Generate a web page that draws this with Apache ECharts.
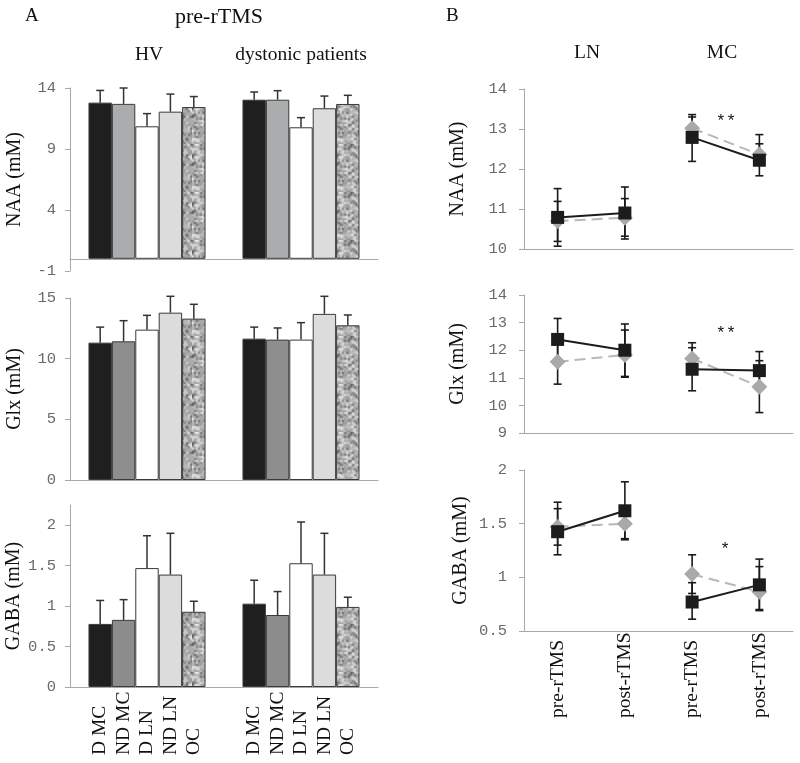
<!DOCTYPE html>
<html>
<head>
<meta charset="utf-8">
<script src="https://cdn.jsdelivr.net/npm/echarts@6/dist/echarts.min.js"></script>
<style>html,body{margin:0;padding:0;background:#fff}#c{width:800px;height:763px}</style>
</head>
<body>
<div id="c"></div>
<script>
// ---------- DATA ----------
const groupCategories = ['HV', 'dystonic patients'];
const barNames = ['D MC', 'ND MC', 'D LN', 'ND LN', 'OC'];

const naaMeanHV = [12.8, 12.7, 10.86, 12.06, 12.44];
const naaSdHV   = [1.0, 1.3, 1.04, 1.44, 0.86];
const naaMeanDP = [13.04, 13.04, 10.78, 12.34, 12.69];
const naaSdDP   = [0.63, 0.74, 0.79, 1.0, 0.71];

const glxMeanHV = [11.32, 11.43, 12.39, 13.79, 13.3];
const glxSdHV   = [1.28, 1.7, 1.18, 1.35, 1.18];
const glxMeanDP = [11.65, 11.57, 11.57, 13.69, 12.75];
const glxSdDP   = [0.95, 0.96, 1.4, 1.45, 0.85];

const gabaMeanHV = [0.78, 0.83, 1.47, 1.39, 0.93];
const gabaSdHV   = [0.29, 0.25, 0.4, 0.51, 0.13];
const gabaMeanDP = [1.03, 0.89, 1.53, 1.39, 0.99];
const gabaSdDP   = [0.29, 0.29, 0.51, 0.51, 0.12];

const timeCategories = ['pre-rTMS', 'post-rTMS', 'pre-rTMS', 'post-rTMS'];

const naaBlack     = [10.79, 10.9, 12.79, 12.22];
const naaBlackLow  = [10.07, 10.25, 12.19, 11.83];
const naaBlackHigh = [11.51, 11.55, 13.36, 12.86];
const naaGrey      = [10.7, 10.78, 13.02, 12.36];
const naaGreyLow   = [10.19, 10.32, 12.72, 12.09];
const naaGreyHigh  = [11.19, 11.26, 13.3, 12.63];

const glxBlack     = [12.39, 12.0, 11.31, 11.26];
const glxBlackLow  = [11.62, 11.05, 10.53, 10.57];
const glxBlackHigh = [13.15, 12.95, 12.09, 11.95];
const glxGrey      = [11.58, 11.83, 11.7, 10.68];
const glxGreyLow   = [10.77, 11.02, 11.13, 9.74];
const glxGreyHigh  = [12.38, 12.73, 12.27, 11.62];

const gabaBlack     = [1.425, 1.62, 0.77, 0.93];
const gabaBlackLow  = [1.21, 1.35, 0.61, 0.69];
const gabaBlackHigh = [1.7, 1.89, 0.95, 1.17];
const gabaGrey      = [1.47, 1.5, 1.03, 0.865];
const gabaGreyLow   = [1.3, 1.36, 0.85, 0.7];
const gabaGreyHigh  = [1.64, 1.64, 1.21, 1.1];

// ---------- STYLE ----------
const SERIF = "'Liberation Serif','Times New Roman',serif";
const MONO = "'Liberation Mono','Courier New',monospace";
const AXIS_GREY = '#a8a8a8';
const TICK_TEXT = '#6a6a6a';

// speckled texture for OC bars (deterministic, soft)
function makeTexture() {
  const N = 24, SCALE = 2;
  const small = document.createElement('canvas');
  small.width = N; small.height = N;
  const sctx = small.getContext('2d');
  const img = sctx.createImageData(N, N);
  let s = 24680;
  function rnd() { s = (s * 1103515245 + 12345) & 0x7fffffff; return s / 0x7fffffff; }
  for (let i = 0; i < N * N; i++) {
    const r = rnd();
    let g;
    if (r < 0.18) g = 85 + rnd() * 40;       // dark specks
    else if (r < 0.38) g = 210 + rnd() * 30; // light spots
    else g = 150 + rnd() * 45;               // mid grey
    img.data[i * 4] = g; img.data[i * 4 + 1] = g; img.data[i * 4 + 2] = g; img.data[i * 4 + 3] = 255;
  }
  sctx.putImageData(img, 0, 0);
  const cv = document.createElement('canvas');
  cv.width = N * SCALE; cv.height = N * SCALE;
  const ctx = cv.getContext('2d');
  ctx.imageSmoothingEnabled = true;
  ctx.drawImage(small, 0, 0, N * SCALE, N * SCALE);
  return cv;
}
const texture = makeTexture();
const ndMcColors = ['#aaacad', '#8e8e8e', '#8c8c8c'];
function barColor(panel, bi) {
  if (bi === 0) return '#1f1f1f';
  if (bi === 1) return ndMcColors[panel];
  if (bi === 2) return '#ffffff';
  if (bi === 3) return '#dcdcdc';
  return { image: texture, repeat: 'repeat' };
}

// ---------- LAYOUT ----------
const gridsA = [
  { left: 70, top: 88, width: 308, height: 183 },
  { left: 70, top: 298, width: 308, height: 182 },
  { left: 70, top: 505, width: 308, height: 182 }
];
const gridsB = [
  { left: 524, top: 89, width: 269, height: 160 },
  { left: 524, top: 295, width: 269, height: 138 },
  { left: 524, top: 470, width: 269, height: 161 }
];
const grids = gridsA.concat(gridsB).map(g => Object.assign({ containLabel: false, outerBoundsMode: 'none' }, g));

function yAxisBase(name, min, max, interval, gap, margin) {
  return {
    type: 'value', min, max, interval,
    name, nameLocation: 'middle', nameGap: gap, nameRotate: 90,
    nameTextStyle: { fontFamily: SERIF, fontSize: 20, color: '#111' },
    axisLine: { show: true, lineStyle: { color: AXIS_GREY, width: 1 } },
    axisTick: { show: true, length: 5, lineStyle: { color: AXIS_GREY } },
    axisLabel: { fontFamily: MONO, fontSize: 15.5, color: TICK_TEXT, margin },
    splitLine: { show: false }
  };
}
const yAxes = [
  yAxisBase('NAA (mM)', -1, 14, 5, 45, 14),
  yAxisBase('Glx (mM)', 0, 15, 5, 45, 14),
  yAxisBase('GABA (mM)', 0, 2.25, 0.5, 45, 14),
  yAxisBase('NAA (mM)', 10, 14, 1, 56, 17),
  yAxisBase('Glx (mM)', 9, 14, 1, 56, 17),
  yAxisBase('GABA (mM)', 0.5, 2, 0.5, 53, 17)
];
yAxes[2].axisLabel.customValues = [0, 0.5, 1, 1.5, 2];
yAxes[2].axisTick.customValues = [0, 0.5, 1, 1.5, 2];
yAxes.forEach((y, i) => y.gridIndex = i);

const xAxes = [];
for (let i = 0; i < 3; i++) {
  xAxes.push({
    type: 'category', gridIndex: i, data: groupCategories,
    axisLine: { show: true, onZero: true, lineStyle: { color: AXIS_GREY, width: 1 } },
    axisTick: { show: false }, axisLabel: { show: false }
  });
}
for (let i = 0; i < 3; i++) {
  xAxes.push({
    type: 'category', gridIndex: 3 + i, data: timeCategories,
    axisLine: { show: true, lineStyle: { color: AXIS_GREY, width: 1 } },
    axisTick: { show: false },
    axisLabel: i === 2 ? {
      show: true, rotate: 90, align: 'left', verticalAlign: 'middle', margin: 87,
      fontFamily: SERIF, fontSize: 19.5, color: '#111', interval: 0
    } : { show: false }
  });
}

// ---------- SERIES ----------
const series = [];
const panelA = [
  [naaMeanHV, naaSdHV, naaMeanDP, naaSdDP],
  [glxMeanHV, glxSdHV, glxMeanDP, glxSdDP],
  [gabaMeanHV, gabaSdHV, gabaMeanDP, gabaSdDP]
];
const CAT_GAP = 0.24;
panelA.forEach((p, gi) => {
  const [mHV, sHV, mDP, sDP] = p;
  barNames.forEach((nm, bi) => {
    series.push({
      type: 'bar', name: nm, xAxisIndex: gi, yAxisIndex: gi,
      data: [mHV[bi], mDP[bi]],
      barGap: '0%', barCategoryGap: (CAT_GAP * 100) + '%',
      itemStyle: { color: barColor(gi, bi), borderColor: '#3a3a3a', borderWidth: 1 },
      label: gi === 2 ? {
        show: true, position: 'bottom', distance: 68, rotate: 90,
        align: 'left', verticalAlign: 'middle',
        formatter: '{a}', fontFamily: SERIF, fontSize: 19.5, color: '#111'
      } : { show: false },
      emphasis: { disabled: true }, silent: true, z: 2
    });
  });
  const errData = [];
  barNames.forEach((nm, bi) => {
    errData.push([0, bi, mHV[bi], sHV[bi]]);
    errData.push([1, bi, mDP[bi], sDP[bi]]);
  });
  series.push({
    type: 'custom', xAxisIndex: gi, yAxisIndex: gi, data: errData,
    encode: { x: 0, y: 2 }, silent: true, z: 3,
    renderItem: function (params, api) {
      const cat = api.value(0), bi = api.value(1), m = api.value(2), sd = api.value(3);
      const base = api.coord([cat, m]);
      const top = api.coord([cat, m + sd]);
      const band = api.size([1, 0])[0];
      const bw = band * (1 - CAT_GAP) / barNames.length;
      const x = base[0] + (bi - (barNames.length - 1) / 2) * bw;
      const st = { stroke: '#333', lineWidth: 1.5 };
      return {
        type: 'group', children: [
          { type: 'line', shape: { x1: x, y1: base[1], x2: x, y2: top[1] }, style: st },
          { type: 'line', shape: { x1: x - 4, y1: top[1], x2: x + 4, y2: top[1] }, style: st }
        ]
      };
    }
  });
});

const panelB = [
  [naaBlack, naaBlackLow, naaBlackHigh, naaGrey, naaGreyLow, naaGreyHigh],
  [glxBlack, glxBlackLow, glxBlackHigh, glxGrey, glxGreyLow, glxGreyHigh],
  [gabaBlack, gabaBlackLow, gabaBlackHigh, gabaGrey, gabaGreyLow, gabaGreyHigh]
];
function splitPair(arr, first) {
  return arr.map((v, i) => (first ? i < 2 : i >= 2) ? v : '-');
}
panelB.forEach((p, k) => {
  const gi = 3 + k;
  const [bl, blL, blH, gr, grL, grH] = p;
  const errData = [];
  for (let i = 0; i < bl.length; i++) {
    errData.push([i, blL[i], blH[i]]);
    errData.push([i, grL[i], grH[i]]);
  }
  series.push({
    type: 'custom', xAxisIndex: gi, yAxisIndex: gi, data: errData,
    encode: { x: 0, y: [1, 2] }, silent: true, z: 1,
    renderItem: function (params, api) {
      const lo = api.coord([api.value(0), api.value(1)]);
      const hi = api.coord([api.value(0), api.value(2)]);
      const st = { stroke: '#1a1a1a', lineWidth: 1.6 };
      return {
        type: 'group', children: [
          { type: 'line', shape: { x1: lo[0], y1: lo[1], x2: hi[0], y2: hi[1] }, style: st },
          { type: 'line', shape: { x1: lo[0] - 4, y1: lo[1], x2: lo[0] + 4, y2: lo[1] }, style: st },
          { type: 'line', shape: { x1: hi[0] - 4, y1: hi[1], x2: hi[0] + 4, y2: hi[1] }, style: st }
        ]
      };
    }
  });
  [true, false].forEach(first => {
    series.push({
      type: 'line', name: 'grey', xAxisIndex: gi, yAxisIndex: gi,
      data: splitPair(gr, first), connectNulls: false,
      symbol: 'diamond', symbolSize: 16,
      itemStyle: { color: '#a9a9a9' },
      lineStyle: { color: '#b8b8b8', width: 2, type: [11, 6] },
      silent: true, z: 2, animation: false
    });
  });
  [true, false].forEach(first => {
    series.push({
      type: 'line', name: 'black', xAxisIndex: gi, yAxisIndex: gi,
      data: splitPair(bl, first), connectNulls: false,
      symbol: 'rect', symbolSize: 13,
      itemStyle: { color: '#1c1c1c' },
      lineStyle: { color: '#1c1c1c', width: 2 },
      silent: true, z: 3, animation: false
    });
  });
});

// ---------- TEXT ----------
function txt(x, y, text, size, font, align) {
  return {
    type: 'text', x, y,
    style: { text, fontFamily: font || SERIF, fontSize: size || 19, fill: '#111',
      align: align || 'center', verticalAlign: 'middle' }
  };
}
const graphics = [
  txt(25, 16, 'A', 19, SERIF, 'left'),
  txt(219, 17, 'pre-rTMS', 22),
  txt(149, 55, 'HV', 19.5),
  txt(301, 55, 'dystonic patients', 19.5),
  txt(446, 16, 'B', 19, SERIF, 'left'),
  txt(587, 53, 'LN', 19.5),
  txt(722, 53, 'MC', 19.5),
  txt(726, 121, '**', 17, MONO),
  txt(726, 333, '**', 17, MONO),
  txt(725, 549, '*', 17, MONO)
];

const chart = echarts.init(document.getElementById('c'), null, { renderer: 'canvas' });
chart.setOption({
  backgroundColor: '#fff',
  animation: false,
  grid: grids,
  xAxis: xAxes,
  yAxis: yAxes,
  series: series,
  graphic: graphics
});
</script>
</body>
</html>
